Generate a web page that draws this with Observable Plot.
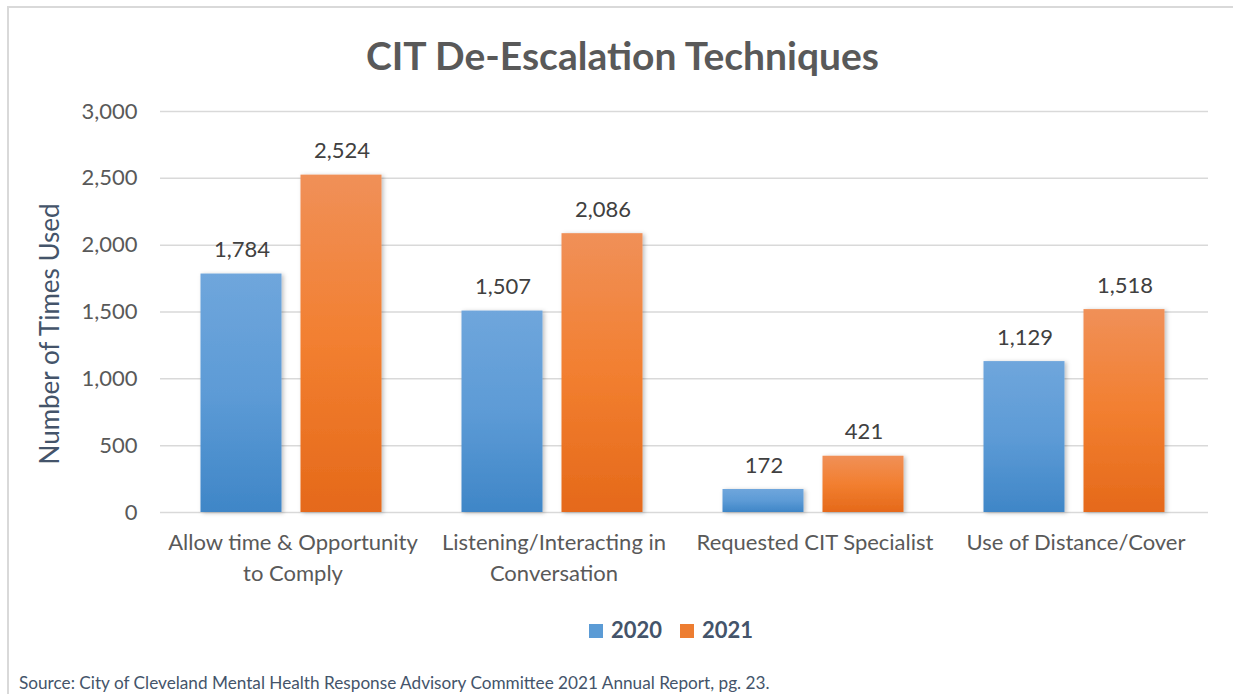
<!DOCTYPE html>
<html>
<head>
<meta charset="utf-8">
<script src="https://cdn.jsdelivr.net/npm/d3@7"></script>
<script src="https://cdn.jsdelivr.net/npm/@observablehq/plot@0.6"></script>
<style>
  html, body { margin: 0; padding: 0; background: #fff; overflow: hidden; width: 1233px; height: 694px; }
  body { font-family: Lato, "Open Sans", sans-serif; position: relative; }
  #frame { position: absolute; left: 7px; top: 6px; width: 1300px; height: 760px; border: 2px solid #d9d9d9; box-sizing: border-box; }
  #title { position: absolute; left: 6px; width: 1233px; top: 30px; text-align: center; font-size: 39px; font-weight: bold; color: #595959; line-height: 50px; }
  #chart { position: absolute; left: 0; top: 90px; }
  #legend { position: absolute; left: 589px; top: 617px; font-size: 22px; font-weight: bold; color: #44546a; line-height: 26px; white-space: nowrap; }
  #legend span.sw { display: inline-block; width: 14px; height: 14px; margin-right: 8px; vertical-align: 0px; }
  #legend span.item { margin-right: 18px; }
  #caption { position: absolute; left: 19px; top: 672px; font-size: 17.2px; color: #44546a; line-height: 22px; white-space: nowrap; }
  [aria-label="y-axis label"] text { font-size: 26px; fill: #44546a; }
</style>
</head>
<body>
<div id="frame"></div>
<div id="title">CIT De-Escalation Techniques</div>
<div id="chart"></div>
<div id="legend"></div>
<div id="caption">Source: City of Cleveland Mental Health Response Advisory Committee 2021 Annual Report, pg. 23.</div>
<script>
const categories = ["Allow time & Opportunity to Comply", "Listening/Interacting in Conversation", "Requested CIT Specialist", "Use of Distance/Cover"];
const categoryLabels = ["Allow time & Opportunity\nto Comply", "Listening/Interacting in\nConversation", "Requested CIT Specialist", "Use of Distance/Cover"];
const years = ["2020", "2021"];
const values2020 = [1784, 1507, 172, 1129];
const values2021 = [2524, 2086, 421, 1518];
const yTicks = [0, 500, 1000, 1500, 2000, 2500, 3000];
const seriesColors = ["#5b9bd5", "#ed7d31"];

const rows2020 = categories.map((c, i) => ({category: c, year: years[0], value: values2020[i]}));
const rows2021 = categories.map((c, i) => ({category: c, year: years[1], value: values2021[i]}));
const labelOf = new Map(categories.map((c, i) => [c, categoryLabels[i]]));
const fmt = d3.format(",");

const plot = Plot.plot({
  width: 1233,
  height: 510,
  marginTop: 21,
  marginBottom: 88,
  marginLeft: 160,
  marginRight: 25,
  style: {fontFamily: "Lato, 'Open Sans', sans-serif", background: "transparent"},
  x: {domain: categories, paddingInner: 0.305, paddingOuter: 0.153},
  y: {domain: [0, 3000]},
  marks: [
    Plot.gridY(yTicks, {stroke: "#d9d9d9", strokeOpacity: 1, strokeWidth: 1.5}),
    Plot.axisY(yTicks, {tickSize: 0, tickPadding: 23, fontSize: 22, fill: "#595959", tickFormat: fmt,
      label: "Number of Times Used", labelAnchor: "center", labelArrow: "none", labelOffset: 120}),
    Plot.axisX({anchor: "bottom", tickSize: 0, tickPadding: 16, fontSize: 22, fill: "#595959", lineHeight: 1.4,
      tickFormat: d => labelOf.get(d), label: null}),
    Plot.barY(rows2020, {x: "category", y: "value", fill: "url(#g2020)", insetRight: 100, dx: -1.5, className: "bar"}),
    Plot.barY(rows2021, {x: "category", y: "value", fill: "url(#g2021)", insetLeft: 100, dx: -1.5, className: "bar"}),
    Plot.text(rows2020, {x: "category", y: "value", text: d => fmt(d.value), dx: -51, dy: -24, fontSize: 22, fill: "#404040"}),
    Plot.text(rows2021, {x: "category", y: "value", text: d => fmt(d.value), dx: 49, dy: -24, fontSize: 22, fill: "#404040"})
  ]
});

const ns = "http://www.w3.org/2000/svg";
const defs = document.createElementNS(ns, "defs");
defs.innerHTML = `
  <linearGradient id="g2020" x1="0" y1="0" x2="0" y2="1">
    <stop offset="0" stop-color="#6fa6dc"/>
    <stop offset="0.5" stop-color="#5d9bd6"/>
    <stop offset="1" stop-color="#3f86c7"/>
  </linearGradient>
  <linearGradient id="g2021" x1="0" y1="0" x2="0" y2="1">
    <stop offset="0" stop-color="#f09058"/>
    <stop offset="0.5" stop-color="#f27f30"/>
    <stop offset="1" stop-color="#e5691a"/>
  </linearGradient>
  <filter id="shadow" x="-10%" y="-10%" width="130%" height="130%">
    <feDropShadow dx="2" dy="1" stdDeviation="2" flood-color="#000" flood-opacity="0.25"/>
  </filter>`;
plot.insertBefore(defs, plot.firstChild);
plot.querySelectorAll("g.bar").forEach(g => g.setAttribute("filter", "url(#shadow)"));
plot.querySelectorAll('[aria-label="y-axis label"] text').forEach(t => t.setAttribute("dx", "-22"));
document.getElementById("chart").appendChild(plot);

const legend = document.getElementById("legend");
years.forEach((y, i) => {
  const item = document.createElement("span");
  item.className = "item";
  item.innerHTML = `<span class="sw" style="background:${seriesColors[i]}"></span>${y}`;
  legend.appendChild(item);
});
</script>
</body>
</html>
